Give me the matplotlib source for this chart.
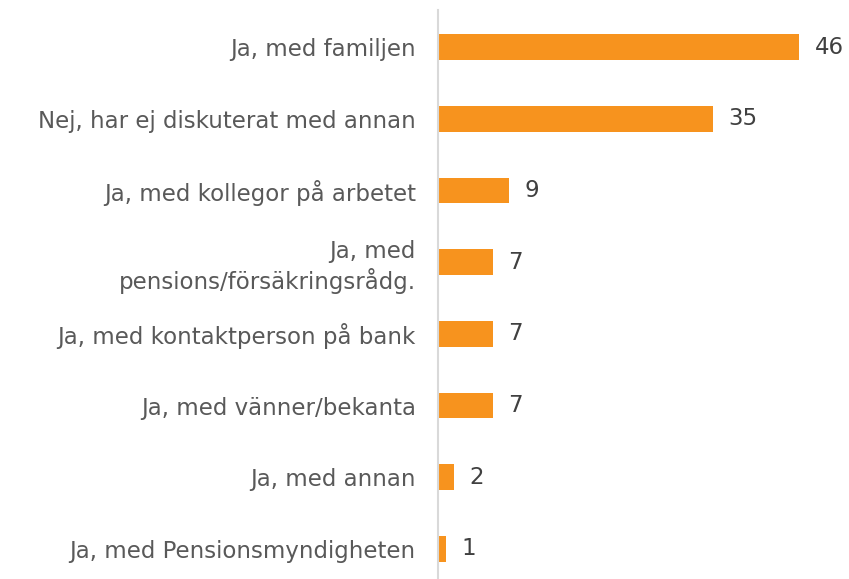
import matplotlib
matplotlib.use("Agg")
import matplotlib.pyplot as plt

categories = [
    "Ja, med familjen",
    "Nej, har ej diskuterat med annan",
    "Ja, med kollegor på arbetet",
    "Ja, med\npensions/försäkringsrådg.",
    "Ja, med kontaktperson på bank",
    "Ja, med vänner/bekanta",
    "Ja, med annan",
    "Ja, med Pensionsmyndigheten",
]
values = [46, 35, 9, 7, 7, 7, 2, 1]

bar_color = "#F7931E"
label_color = "#595959"
value_color = "#404040"

fig = plt.figure(figsize=(8.49, 5.79), dpi=100)
bottom = -5.8 / 579
top = 1 - 10 / 579
ax = fig.add_axes([438/849, bottom, 1 - 438/849, top - bottom])

y = list(range(len(categories)))
ax.barh(y, values, height=0.36, color=bar_color)
ax.set_ylim(len(categories) - 0.5, -0.516)
ax.set_xlim(0, 52.4)

for yi, v in zip(y, values):
    ax.text(v + 2.0, yi, str(v), va="center", ha="left", fontsize=16.5, color=value_color)

ax.set_yticks(y)
ax.set_yticklabels(categories, fontsize=16.5, color=label_color, ha="right",
                   linespacing=1.25)
ax.tick_params(axis="y", length=0, pad=16)
ax.set_xticks([])
for s in ["top", "right", "bottom"]:
    ax.spines[s].set_visible(False)
ax.spines["left"].set_color("#d9d9d9")
ax.spines["left"].set_linewidth(1.5)

fig.savefig("out.png", dpi=100)
